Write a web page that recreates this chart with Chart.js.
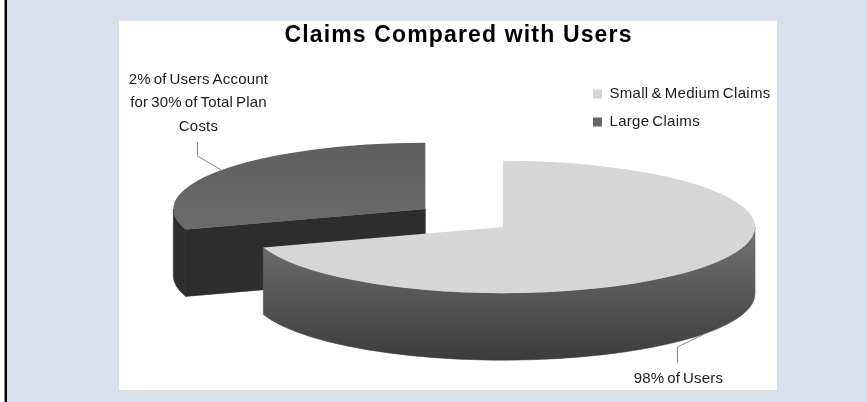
<!DOCTYPE html>
<html>
<head>
<meta charset="utf-8">
<title>Claims Compared with Users</title>
<script src="https://cdn.jsdelivr.net/npm/chart.js@4"></script>
<style>
  html, body { margin: 0; padding: 0; background: #fff; }
  #page { position: absolute; left: 0; top: 0; width: 867px; height: 402px; background: #d9dfeb; overflow: hidden; }
  #rule { position: absolute; left: 0; top: 0; width: 4px; height: 402px; background: #fff; border-right: 1px solid #8a8a8a; }
  #rule2 { position: absolute; left: 5px; top: 0; width: 2px; height: 402px; background: #000; }
  #panel { position: absolute; left: 119px; top: 21px; width: 658px; height: 369px; background: #fff; }
  canvas { display: block; }
</style>
</head>
<body>
<div id="page">
  <div id="rule"></div>
  <div id="rule2"></div>
  <div id="panel"><canvas id="claimsChart" width="658" height="369"></canvas></div>
</div>
<script>
const chartTitle = 'Claims Compared with Users';
const categories = ['Small & Medium Claims', 'Large Claims'];
const shareOfCosts = [70, 30];
const sliceLabels = [
  ['98% of Users'],
  ['2% of Users Account', 'for 30% of Total Plan', 'Costs']
];

const fontFamily = '"Liberation Sans", Arial, sans-serif';
const textSpacing = '0.3px';
const wordGap = '-1.5px';

// Look of the tilted pie
const squash = 0.2625;
const wallDepth = 67;
const explodeDistance = 96;
const explodeLift = 0.32;

function explodeOffset(arc, index) {
  if (index !== 1) return { x: 0, y: 0 };
  const mid = (arc.startAngle + arc.endAngle) / 2;
  return {
    x: Math.cos(mid) * explodeDistance,
    y: Math.sin(mid) * explodeDistance * explodeLift
  };
}

function sliceWall(ctx, arc, cx, cy, fill) {
  const rx = arc.outerRadius;
  const ry = rx * squash;
  ctx.fillStyle = fill;
  ctx.strokeStyle = fill;
  ctx.lineWidth = 0.6;

  // Cut faces that turn toward the viewer
  [[arc.startAngle, Math.cos(arc.startAngle) < -1e-6], [arc.endAngle, Math.cos(arc.endAngle) > 1e-6]].forEach(([angle, visible]) => {
    if (!visible) return;
    const ex = cx + Math.cos(angle) * rx;
    const ey = cy + Math.sin(angle) * ry;
    ctx.beginPath();
    ctx.moveTo(cx, cy);
    ctx.lineTo(ex, ey);
    ctx.lineTo(ex, ey + wallDepth);
    ctx.lineTo(cx, cy + wallDepth);
    ctx.closePath();
    ctx.fill();
    ctx.stroke();
  });

  // Curved rim, front half only
  const from = Math.max(arc.startAngle, 0);
  const to = Math.min(arc.endAngle, Math.PI);
  if (to > from) {
    ctx.beginPath();
    ctx.ellipse(cx, cy, rx, ry, 0, from, to);
    ctx.ellipse(cx, cy + wallDepth, rx, ry, 0, to, from, true);
    ctx.closePath();
    ctx.fill();
    ctx.stroke();
  }
}

const tiltedPie = {
  id: 'tiltedPie',
  beforeDatasetsDraw(chart) {
    const ctx = chart.ctx;
    const arcs = chart.getDatasetMeta(0).data;
    const cy = arcs[0].y;
    const rimGradient = ctx.createLinearGradient(0, cy - 2, 0, cy + wallDepth + arcs[0].outerRadius * squash);
    rimGradient.addColorStop(0, '#747474');
    rimGradient.addColorStop(1, '#3c3c3c');
    const wallFills = [rimGradient, '#2d2d2d'];

    // The exploded slice sits behind the big one
    [1, 0].forEach(i => {
      const arc = arcs[i];
      const shift = explodeOffset(arc, i);
      sliceWall(ctx, arc, arc.x + shift.x, arc.y + shift.y, wallFills[i]);
      ctx.save();
      ctx.translate(shift.x, arc.y + shift.y);
      ctx.scale(1, squash);
      ctx.translate(0, -arc.y);
      arc.draw(ctx);
      ctx.restore();
    });
    return false;
  },
  // returning false above skips afterDatasetsDraw, so the callouts go here
  afterDraw(chart) {
    const ctx = chart.ctx;
    const arcs = chart.getDatasetMeta(0).data;
    ctx.save();
    ctx.strokeStyle = '#888';
    ctx.lineWidth = 1;
    ctx.fillStyle = '#1a1a1a';
    ctx.font = '15px ' + fontFamily;
    ctx.letterSpacing = '0.2px';
    ctx.wordSpacing = '-1.5px';
    ctx.textAlign = 'center';
    ctx.textBaseline = 'middle';
    arcs.forEach((arc, i) => {
      const shift = explodeOffset(arc, i);
      const mid = (arc.startAngle + arc.endAngle) / 2;
      const ax = arc.x + shift.x + Math.cos(mid) * arc.outerRadius;
      let ay = arc.y + shift.y + Math.sin(mid) * arc.outerRadius * squash;
      const below = Math.sin(mid) > 0;
      if (below) ay += wallDepth;
      const dir = below ? 1 : -1;
      const elbowX = Math.round(ax + (below ? -30 : -24.5)) + 0.5;
      ctx.beginPath();
      ctx.moveTo(ax, ay);
      ctx.lineTo(elbowX, ay + dir * 14);
      ctx.lineTo(elbowX, ay + dir * (below ? 30 : 28));
      ctx.stroke();
      const lines = sliceLabels[i];
      lines.forEach((line, n) => {
        const fromElbow = below ? 45.5 + n * 23.5 : -(43.5 + (lines.length - 1 - n) * 23.5);
        ctx.fillText(line, elbowX + 1, ay + fromElbow);
      });
    });
    ctx.restore();
  }
};

// Title and legend do not follow the pie's centre, they are set on their own
const placeBoxes = {
  id: 'placeBoxes',
  afterLayout(chart) {
    const ctx = chart.ctx;
    const title = chart.titleBlock;
    const titleShift = -44.5;
    title.left += titleShift;
    title.right += titleShift;
    const drawTitle = title.draw;
    title.draw = function() {
      ctx.letterSpacing = '1.15px';
      ctx.wordSpacing = '0px';
      drawTitle.call(this);
      ctx.letterSpacing = textSpacing;
      ctx.wordSpacing = wordGap;
    };
    const legend = chart.legend;
    const w = legend.right - legend.left;
    const h = legend.bottom - legend.top;
    legend.left = 474 - legend.options.labels.padding;
    legend.right = legend.left + w;
    legend.top = 52.5;
    legend.bottom = legend.top + h;
  },
  beforeDraw(chart) {
    chart.ctx.letterSpacing = textSpacing;
    chart.ctx.wordSpacing = wordGap;
  }
};

const canvasCtx = document.getElementById('claimsChart').getContext('2d');

// Faint shading across the top of the exploded slice
const largeTop = canvasCtx.createLinearGradient(0, -46, 0, 284);
largeTop.addColorStop(0, '#5f5f5f');
largeTop.addColorStop(1, '#6b6b6b');
const topColors = ['#d6d6d6', largeTop];

new Chart(canvasCtx, {
  type: 'pie',
  data: {
    labels: categories,
    datasets: [{
      data: shareOfCosts,
      backgroundColor: topColors,
      borderWidth: 0,
      hoverOffset: 0,
      radius: 252,
      clip: false
    }]
  },
  options: {
    responsive: false,
    animation: false,
    events: [],
    layout: { padding: { left: 110, right: 0, top: 1, bottom: 7 } },
    plugins: {
      title: {
        display: true,
        text: chartTitle,
        color: '#000',
        font: { family: fontFamily, size: 23, weight: 'bold' },
        padding: { top: 0, bottom: 21.4 }
      },
      legend: {
        position: 'chartArea',
        align: 'start',
        labels: {
          boxWidth: 9,
          boxHeight: 9,
          padding: 13,
          color: '#1a1a1a',
          font: { family: fontFamily, size: 15 }
        }
      },
      tooltip: { enabled: false }
    }
  },
  plugins: [placeBoxes, tiltedPie]
});
</script>
</body>
</html>
